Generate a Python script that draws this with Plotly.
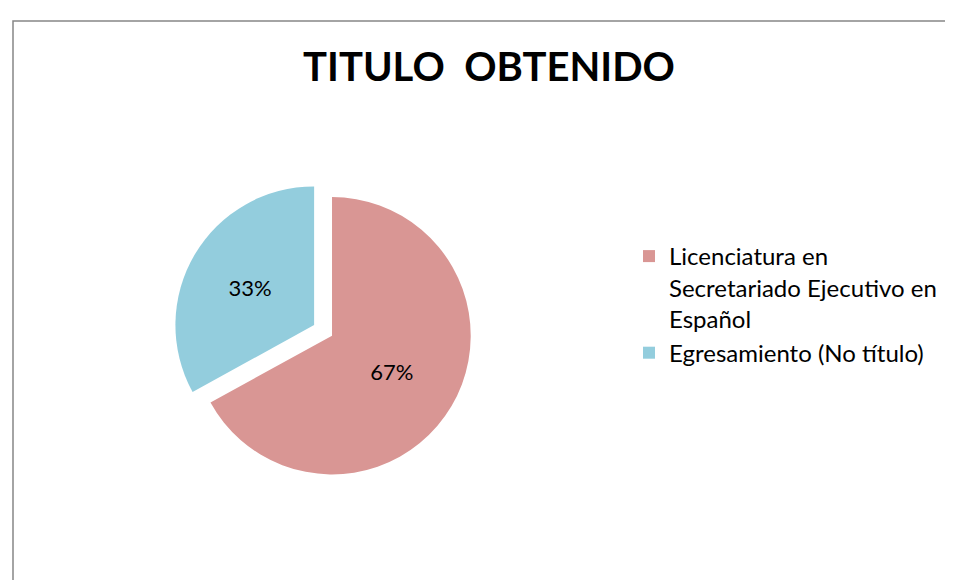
import plotly.graph_objects as go

labels = ["Licenciatura en<br>Secretariado Ejecutivo en<br>Español", "Egresamiento (No título)"]
values = [67, 33]
colors = ["#D99694", "#93CDDD"]
pulls = [0, 0.15]

W, H = 953, 580
FONT = "Lato, Liberation Sans, sans-serif"

fig = go.Figure(go.Pie(
    labels=labels,
    values=values,
    marker=dict(colors=colors, line=dict(color="white", width=0)),
    pull=pulls,
    sort=False,
    direction="clockwise",
    rotation=0,
    texttemplate="%{percent:.0%}",
    textposition="inside",
    insidetextfont=dict(family=FONT, size=22, color="black"),
    domain=dict(x=[0.11, 0.57], y=[0.16, 0.71]),
    hoverinfo="percent",
))

fig.update_layout(
    width=W, height=H,
    margin=dict(l=0, r=0, t=0, b=0),
    paper_bgcolor="white",
    plot_bgcolor="white",
    title=dict(text="<b>TITULO  OBTENIDO</b>", x=481 / W, xanchor="center",
               y=1 - 59 / H, yanchor="middle",
               font=dict(family=FONT, size=40, color="black")),
    legend=dict(x=621 / W, y=1 - 226 / H, xanchor="left", yanchor="top",
                font=dict(family=FONT, size=24, color="black"),
                valign="top", itemwidth=30),
    showlegend=True,
    shapes=[dict(type="rect", xref="paper", yref="paper",
                 x0=5 / W, x1=1.02, y0=-0.05, y1=1 - 13 / H,
                 line=dict(color="#868686", width=1.5), fillcolor="rgba(0,0,0,0)", layer="below")],
)

fig.write_html("out.html")
